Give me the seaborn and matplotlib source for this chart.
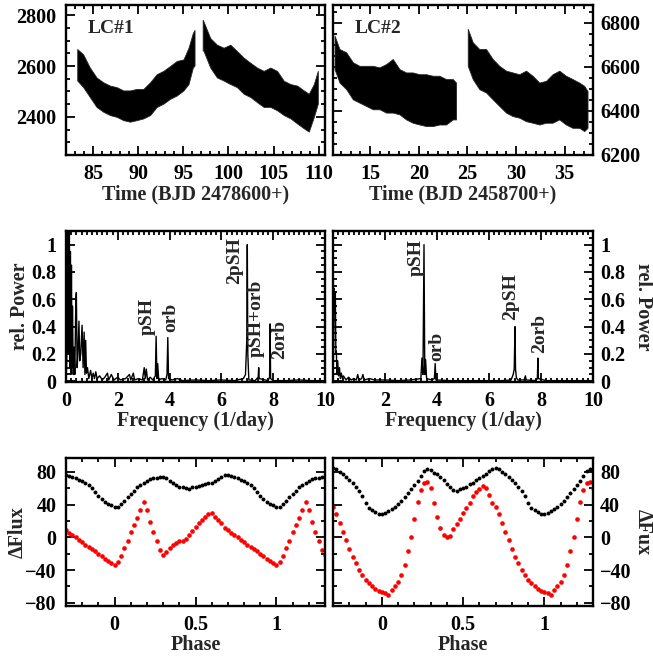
import numpy as np
import pandas as pd
import matplotlib
matplotlib.use("Agg")
import matplotlib.pyplot as plt
from matplotlib.ticker import MultipleLocator, FuncFormatter
import seaborn as sns

# ---------------- data ----------------
# Light curves: dense band (lower / upper envelope of the bulk of points)
lc1_time = [83.3, 83.96, 84.70, 85.44, 86.19, 86.93, 87.67, 88.41, 89.15, 89.89, 90.63, 91.37,
            92.11, 92.85, 93.59, 94.33, 95.07, 95.63, 96.11, 96.3, np.nan,
            97.2, 97.30, 98.04, 98.78, 99.52, 100.26, 101.00, 101.74, 102.48, 103.22, 103.96,
            104.70, 105.44, 106.19, 106.93, 107.67, 108.41, 108.96, 109.52, 109.96]
lc1_low = [2541, 2515, 2476, 2437, 2418, 2405, 2398, 2385, 2379, 2385, 2392, 2405,
           2437, 2450, 2469, 2482, 2502, 2527, 2592, 2600, np.nan,
           2660, 2657, 2592, 2553, 2541, 2527, 2515, 2489, 2476, 2456, 2437,
           2437, 2424, 2405, 2392, 2372, 2353, 2340, 2398, 2450]
lc1_high = [2665, 2644, 2592, 2553, 2534, 2521, 2515, 2502, 2502, 2508, 2508, 2534,
            2566, 2579, 2598, 2618, 2624, 2670, 2728, 2740, np.nan,
            2780, 2773, 2708, 2682, 2670, 2682, 2657, 2631, 2611, 2592, 2579,
            2592, 2579, 2540, 2527, 2521, 2502, 2489, 2527, 2579]

lc2_time = [11.41, 11.92, 12.61, 13.29, 13.97, 14.66, 15.34, 16.03, 16.71, 17.39, 18.08, 18.76,
            19.44, 20.13, 20.81, 21.50, 22.18, 22.86, 23.55, 23.89, np.nan,
            25.09, 25.60, 26.28, 26.97, 27.65, 28.33, 29.02, 29.70, 30.38, 31.07, 31.75,
            32.44, 33.12, 33.80, 34.49, 35.17, 35.85, 36.54, 37.05, 37.39]
lc2_low = [6587, 6526, 6496, 6450, 6435, 6420, 6405, 6405, 6390, 6390, 6382, 6359,
           6344, 6336, 6329, 6329, 6336, 6336, 6359, 6359, np.nan,
           6602, 6542, 6496, 6481, 6450, 6420, 6390, 6374, 6367, 6351, 6344,
           6336, 6344, 6344, 6359, 6336, 6321, 6321, 6306, 6321]
lc2_high = [6739, 6678, 6663, 6618, 6602, 6602, 6602, 6595, 6610, 6633, 6587, 6572,
            6572, 6564, 6564, 6557, 6557, 6542, 6542, 6526, np.nan,
            6770, 6709, 6678, 6678, 6633, 6602, 6580, 6572, 6564, 6580, 6557,
            6526, 6534, 6564, 6580, 6557, 6542, 6526, 6511, 6488]

# Periodograms
ps1_freq = [0.00, 0.03, 0.05, 0.07, 0.09, 0.11, 0.13, 0.15, 0.17, 0.19, 0.21, 0.23, 0.25, 0.28,
            0.31, 0.34, 0.38, 0.40, 0.43, 0.46, 0.50, 0.53, 0.57, 0.62, 0.66, 0.70, 0.73, 0.76,
            0.79, 0.83, 0.88, 0.95, 1.00, 1.05, 1.10, 1.15, 1.20, 1.30, 1.40, 1.50, 1.60, 1.65,
            1.75, 1.85, 2.00, 2.10, 2.30, 2.45, 2.50, 2.60, 2.65, 2.80, 2.95, 3.02, 3.06, 3.10,
            3.15, 3.25, 3.35, 3.45, 3.48, 3.51, 3.54, 3.58, 3.70, 3.85, 3.90, 3.93, 3.96, 4.10,
            4.30, 4.50, 5.00, 5.50, 6.00, 6.50, 6.85, 6.93, 6.98, 7.00, 7.02, 7.06, 7.30, 7.42,
            7.44, 7.46, 7.80, 7.86, 7.88, 7.90, 8.00, 8.50, 9.00, 9.50, 10.00]
ps1_power = [0.00, 0.15, 1.15, 0.20, 1.15, 0.30, 1.15, 0.10, 0.95, 0.05, 0.85, 0.10, 0.55, 0.05,
             0.25, 0.05, 0.60, 0.65, 0.10, 0.20, 0.44, 0.15, 0.20, 0.41, 0.10, 0.36, 0.05, 0.30,
             0.06, 0.10, 0.02, 0.08, 0.02, 0.06, 0.02, 0.07, 0.02, 0.04, 0.01, 0.03, 0.06, 0.01,
             0.05, 0.01, 0.03, 0.01, 0.02, 0.05, 0.01, 0.06, 0.01, 0.02, 0.01, 0.10, 0.02, 0.09,
             0.01, 0.03, 0.01, 0.04, 0.33, 0.02, 0.13, 0.01, 0.02, 0.01, 0.05, 0.32, 0.02, 0.01,
             0.02, 0.005, 0.01, 0.005, 0.01, 0.005, 0.02, 0.05, 0.30, 1.00, 0.20, 0.01, 0.005, 0.03,
             0.10, 0.02, 0.005, 0.03, 0.42, 0.02, 0.005, 0.005, 0.01, 0.005, 0.005]

ps2_freq = [0.00, 0.03, 0.05, 0.07, 0.09, 0.11, 0.13, 0.15, 0.18, 0.21, 0.25, 0.28, 0.32, 0.36,
            0.40, 0.50, 0.60, 0.70, 0.80, 0.90, 0.95, 1.00, 1.10, 1.15, 1.20, 1.40, 1.60, 2.00,
            2.50, 3.00, 3.38, 3.42, 3.46, 3.50, 3.53, 3.56, 3.60, 3.80, 3.90, 3.93, 3.96, 4.50,
            5.50, 6.50, 6.85, 6.93, 6.97, 7.00, 7.02, 7.05, 7.10, 7.35, 7.40, 7.43, 7.80, 7.86,
            7.88, 7.90, 8.20, 10.00]
ps2_power = [0.00, 0.30, 0.68, 0.50, 0.65, 0.20, 0.22, 0.05, 0.15, 0.04, 0.10, 0.02, 0.06, 0.02,
             0.04, 0.01, 0.03, 0.01, 0.02, 0.01, 0.05, 0.01, 0.02, 0.05, 0.01, 0.02, 0.01, 0.01,
             0.005, 0.01, 0.02, 0.17, 0.05, 1.00, 0.05, 0.16, 0.02, 0.01, 0.02, 0.13, 0.01, 0.005,
             0.005, 0.005, 0.01, 0.05, 0.09, 0.40, 0.09, 0.03, 0.01, 0.01, 0.04, 0.01, 0.005, 0.02,
             0.17, 0.02, 0.005, 0.005]

# Phase-folded curves, one cycle (phase 0 ... 0.98, step 0.02)
phase = [0.00, 0.02, 0.04, 0.06, 0.08, 0.10, 0.12, 0.14, 0.16, 0.18, 0.20, 0.22, 0.24, 0.26,
         0.28, 0.30, 0.32, 0.34, 0.36, 0.38, 0.40, 0.42, 0.44, 0.46, 0.48, 0.50, 0.52, 0.54,
         0.56, 0.58, 0.60, 0.62, 0.64, 0.66, 0.68, 0.70, 0.72, 0.74, 0.76, 0.78, 0.80, 0.82,
         0.84, 0.86, 0.88, 0.90, 0.92, 0.94, 0.96, 0.98]
lc1_black = [37, 37, 41, 45, 49, 53, 57, 61, 64, 67, 69, 71, 72, 73, 74, 74, 72, 69, 66, 64,
             62, 61, 60, 59, 61, 62, 63, 64, 65, 66, 66, 69, 71, 74, 76, 76, 75, 74, 72, 70,
             69, 67, 64, 60, 56, 51, 47, 43, 41, 39]
lc1_red = [-34, -30, -23, -13, -4, 6, 15, 24, 33, 43, 33, 19, 6, -5, -15, -22, -18, -13, -10, -7,
           -5, -4, -2, 3, 8, 13, 17, 21, 25, 29, 30, 25, 21, 17, 12, 9, 5, 3, 0, -3,
           -6, -9, -12, -14, -17, -20, -23, -26, -29, -32]
lc2_black = [28, 30, 32, 35, 37, 41, 44, 49, 54, 59, 64, 69, 75, 81, 83, 82, 79, 77, 74, 70,
             65, 62, 58, 57, 59, 60, 62, 65, 67, 70, 73, 75, 78, 81, 83, 85, 83, 80, 77, 74,
             70, 66, 62, 57, 50, 42, 36, 33, 31, 29]
lc2_red = [-67, -68, -70, -65, -60, -55, -46, -34, -17, 0, 22, 43, 58, 66, 68, 60, 42, 25, 11, 3,
           0, 1, 10, 16, 23, 30, 36, 42, 50, 55, 59, 63, 60, 52, 42, 37, 29, 18, 7, -3,
           -14, -24, -32, -40, -46, -52, -56, -60, -63, -66]

# ---------------- style ----------------
sns.set_theme(style="ticks")
plt.rcParams["font.family"] = ["Liberation Serif", "DejaVu Serif"]
plt.rcParams["font.weight"] = "bold"
plt.rcParams["axes.labelweight"] = "bold"
plt.rcParams["axes.linewidth"] = 1.5
FS = 14.5

fig = plt.figure(figsize=(6.53, 6.61), dpi=100)
W, H = 653.0, 661.0


def add_ax(x0, y_top, x1, y_bot):
    return fig.add_axes([x0 / W, 1 - y_bot / H, (x1 - x0) / W, (y_bot - y_top) / H])


ax_lc1 = add_ax(66, 5, 325, 155)
ax_lc2 = add_ax(333, 5, 593, 155)
ax_ps1 = add_ax(66, 231, 325, 382)
ax_ps2 = add_ax(333, 231, 593, 382)
ax_ph1 = add_ax(66, 458, 325, 606)
ax_ph2 = add_ax(333, 458, 593, 606)

gfmt = FuncFormatter(lambda v, pos: "%g" % round(v, 2))


def style(ax, right=False):
    ax.tick_params(which="both", direction="in", top=True, bottom=True, left=True, right=True,
                   labelsize=FS, width=1.3, colors="black")
    ax.tick_params(which="major", length=6.5)
    ax.tick_params(which="minor", length=3.2)
    ax.tick_params(axis="x", which="major", pad=6.5)
    ax.tick_params(axis="y", which="major", pad=5 if right else 7)
    if right:
        ax.tick_params(labelleft=False, labelright=True)
        ax.yaxis.set_label_position("right")
    for lab in ax.get_xticklabels() + ax.get_yticklabels():
        lab.set_fontweight("bold")
    for s in ax.spines.values():
        s.set_linewidth(1.7)
        s.set_color("black")
    ax.set_facecolor("white")


def ylab(ax, text, right, xcoord):
    ax.set_ylabel(text, fontsize=FS, fontweight="bold", rotation=270 if right else 90)
    ax.yaxis.label.set_verticalalignment("center")
    ax.yaxis.label.set_horizontalalignment("center")
    ax.yaxis.set_label_coords(xcoord, 0.5)


# ---- light curves ----
for ax, t, lo, hi, xl, yl, xlab, txt, right in [
    (ax_lc1, lc1_time, lc1_low, lc1_high, (82.0, 110.7), (2250, 2840), "Time (BJD 2478600+)", "LC#1", False),
    (ax_lc2, lc2_time, lc2_low, lc2_high, (11.2, 37.9), (6200, 6880), "Time (BJD 2458700+)", "LC#2", True),
]:
    ax.fill_between(np.array(t, float), np.array(lo, float), np.array(hi, float),
                    color="black", linewidth=0.6, edgecolor="0.15")
    ax.set_xlim(*xl)
    ax.set_ylim(*yl)
    ax.xaxis.set_major_locator(MultipleLocator(5))
    ax.xaxis.set_minor_locator(MultipleLocator(1))
    ax.yaxis.set_major_locator(MultipleLocator(200))
    ax.yaxis.set_minor_locator(MultipleLocator(50))
    ax.set_xlabel(xlab, fontsize=FS, fontweight="bold", labelpad=0)
    ax.text(0.085, 0.9, txt, transform=ax.transAxes, ha="left", va="top",
            fontsize=FS - 0.5, fontweight="bold")
    style(ax, right)

# ---- periodograms ----
for ax, f, p, right in [(ax_ps1, ps1_freq, ps1_power, False), (ax_ps2, ps2_freq, ps2_power, True)]:
    df = pd.DataFrame({"freq": f, "power": p})
    sns.lineplot(data=df, x="freq", y="power", ax=ax, color="black", linewidth=1.0,
                 estimator=None, sort=False)
    ax.set_xlim(0, 10)
    ax.set_ylim(-0.005, 1.10)
    ax.xaxis.set_major_locator(MultipleLocator(2))
    ax.xaxis.set_minor_locator(MultipleLocator(0.2))
    ax.yaxis.set_major_locator(MultipleLocator(0.2))
    ax.yaxis.set_minor_locator(MultipleLocator(0.05))
    ax.yaxis.set_major_formatter(gfmt)
    if right:
        # the "0" of the right panel is hidden under the "10" of the left panel
        ax.xaxis.set_major_formatter(FuncFormatter(lambda v, pos: "" if abs(v) < 1e-9 else "%g" % v))
    ax.set_xlabel("Frequency (1/day)", fontsize=FS, fontweight="bold", labelpad=0)
    style(ax, right)
    ylab(ax, "rel. Power", right, 1.192 if right else -0.178)

ann1 = [("pSH", 3.12, 0.34), ("orb", 4.05, 0.36), ("2pSH", 6.5, 0.71), ("pSH+orb", 7.33, 0.18), ("2orb", 8.25, 0.16)]
ann2 = [("pSH", 3.2, 0.77), ("orb", 4.0, 0.15), ("2pSH", 6.85, 0.45), ("2orb", 7.95, 0.21)]
for ax, ann in [(ax_ps1, ann1), (ax_ps2, ann2)]:
    for lab, x, y in ann:
        ax.text(x, y, lab, rotation=90, ha="center", va="bottom", fontsize=FS - 0.5,
                fontweight="bold")

# ---- phase curves ----
ph = np.array(phase)
for ax, blk, red, ytxt, right in [(ax_ph1, lc1_black, lc1_red, "ΔFlux", False),
                                  (ax_ph2, lc2_black, lc2_red, "ΔFux", True)]:
    rows = []
    for shift in (-1, 0, 1):
        for x, b, r in zip(ph + shift, blk, red):
            if -0.32 <= x <= 1.32:
                rows.append((x, b, r))
    d = pd.DataFrame(rows, columns=["phase", "black", "red"])
    sns.scatterplot(data=d, x="phase", y="black", ax=ax, color="black", s=8, linewidth=0)
    sns.scatterplot(data=d, x="phase", y="red", ax=ax, color="red", s=11, linewidth=0)
    ax.set_xlim(-0.3, 1.3)
    ax.set_ylim(-84, 97)
    ax.xaxis.set_major_locator(MultipleLocator(0.5))
    ax.xaxis.set_minor_locator(MultipleLocator(0.1))
    ax.xaxis.set_major_formatter(gfmt)
    ax.yaxis.set_major_locator(MultipleLocator(40))
    ax.yaxis.set_minor_locator(MultipleLocator(20))
    ax.set_xlabel("Phase", fontsize=FS, fontweight="bold", labelpad=0)
    style(ax, right)
    ylab(ax, ytxt, right, 1.192 if right else -0.185)

fig.savefig("out.png", dpi=100)
